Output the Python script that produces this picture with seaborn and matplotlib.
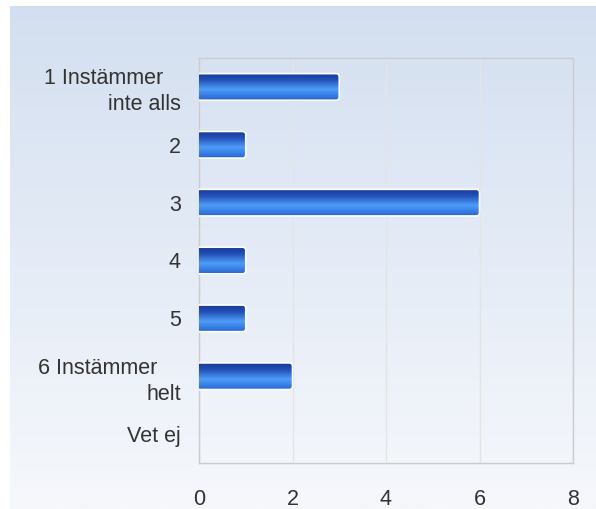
import numpy as np
import pandas as pd
import matplotlib
matplotlib.use("Agg")
import matplotlib.pyplot as plt
import seaborn as sns
from matplotlib.patches import FancyBboxPatch
from matplotlib.colors import LinearSegmentedColormap

categories = ["1 Instämmer   \ninte alls", "2", "3", "4", "5", "6 Instämmer    \nhelt", "Vet ej"]
values = [3, 1, 6, 1, 1, 2, 0]
xticks = [0, 2, 4, 6, 8]

sns.set_theme(style="white")
plt.rcParams['font.family'] = ['Liberation Sans', 'DejaVu Sans']

W, H = 596, 509
fig = plt.figure(figsize=(W / 100, H / 100), dpi=100)
fig.patch.set_facecolor("white")

# background gradient panel
bg = fig.add_axes([10 / W, 0, 1 - 10 / W, 1 - 6 / H], zorder=-10)
bg_cmap = LinearSegmentedColormap.from_list("bg", ["#d3dff0", "#f6f8fc"])
bg.imshow(np.linspace(0, 1, 256).reshape(-1, 1), aspect="auto", cmap=bg_cmap,
          extent=[0, 1, 0, 1], origin="upper")
bg.set_axis_off()

left, right, top, bottom = 199, 573, 58, 463
ax = fig.add_axes([left / W, 1 - bottom / H, (right - left) / W, (bottom - top) / H])
ax.patch.set_alpha(0)

df = pd.DataFrame({"cat": categories, "val": values})
sns.barplot(data=df, x="val", y="cat", orient="h", ax=ax, color="#2f6fd6",
            width=0.46, saturation=1)

ax.set_xlim(0, 8)
ax.set_ylim(len(categories) - 0.5, -0.5)
ax.set_xticks(xticks)
ax.set_xlabel("")
ax.set_ylabel("")
ax.grid(axis="x", color="#e4e4e4", linewidth=1)
ax.set_axisbelow(True)
for s in ax.spines.values():
    s.set_color("#cccccc")
    s.set_linewidth(1)
ax.tick_params(axis="both", length=0, labelsize=15.5, colors="#333333")
ax.tick_params(axis="x", pad=18.5)
ax.tick_params(axis="y", pad=13)
for lab in ax.get_yticklabels():
    lab.set_horizontalalignment("right")
    lab.set_multialignment("right")
    lab.set_linespacing(1.3)

bar_cmap = LinearSegmentedColormap.from_list(
    "bar", [(0.0, "#173a96"), (0.25, "#2350b8"), (0.6, "#4d9cf7"), (0.8, "#3a82e8"), (1.0, "#2a64cc")])
grad = np.linspace(0, 1, 64).reshape(-1, 1)

px_x = (right - left) / 8.0
px_y = (bottom - top) / len(categories)
aspect = px_x / px_y

for p in list(ax.patches):
    x0, y0 = p.get_x(), p.get_y()
    w, h = p.get_width(), p.get_height()
    p.set_visible(False)
    if w <= 0:
        continue
    rs = 3.0 / px_x
    fb = FancyBboxPatch((x0 - 0.2, y0), w + 0.2, h,
                        boxstyle=f"round,pad=0,rounding_size={rs}",
                        mutation_aspect=aspect,
                        facecolor="none", edgecolor="white", linewidth=1.2, zorder=4)
    ax.add_patch(fb)
    im = ax.imshow(grad, aspect="auto", cmap=bar_cmap, extent=[x0, x0 + w, y0 + h, y0],
                   origin="upper", zorder=3)
    im.set_clip_path(fb)

ax.set_xlim(0, 8)
ax.set_ylim(len(categories) - 0.5, -0.5)

fig.savefig("out.png", dpi=100)
